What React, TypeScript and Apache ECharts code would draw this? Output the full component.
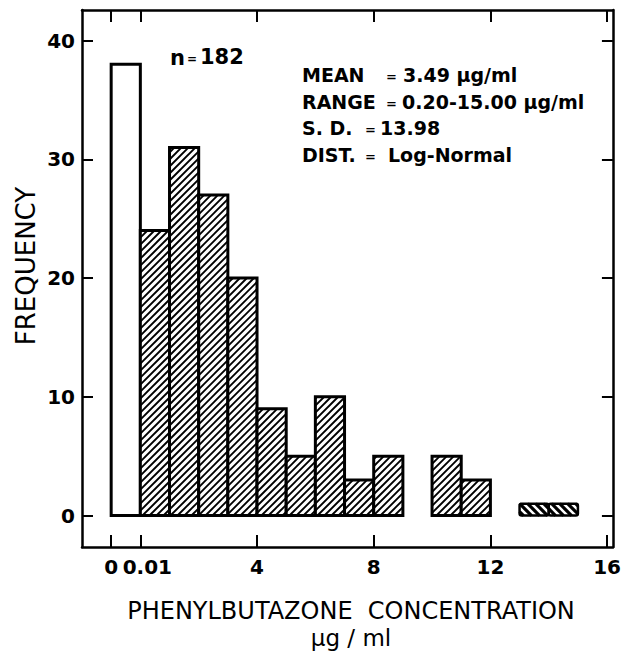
import React, { useEffect, useRef } from "react";
import * as echarts from "echarts";

// Histogram bins (axis position units; the 0–0.01 bin is drawn in the broken segment at -1..0)
const binLow = [-1, 0, 1, 2, 3, 4, 5, 6, 7, 8, 10, 11, 13, 14];
const binHigh = [0, 1, 2, 3, 4, 5, 6, 7, 8, 9, 11, 12, 14, 15];
const frequency = [38, 24, 31, 27, 20, 9, 5, 10, 3, 5, 5, 3, 1, 1];
const hatch = ["none", "/", "/", "/", "/", "/", "/", "/", "/", "/", "/", "/", "\\", "\\"];

const xTickValues = [-1, 0, 4, 8, 12, 16];
const xTickLabels = ["0", "0.01", "4", "8", "12", "16"];
const yTickValues = [0, 10, 20, 30, 40];

const statLabels = ["MEAN", "RANGE", "S. D.", "DIST."];
const statValues = ["3.49 µg/ml", "0.20-15.00 µg/ml", "13.98", "Log-Normal"];
const sampleSize = "182";

const FONT = "'DejaVu Sans', 'Liberation Sans', sans-serif";
const X_MIN = -2;

export default function App() {
  const ref = useRef<HTMLDivElement>(null);

  useEffect(() => {
    if (!ref.current) return;
    const chart = echarts.init(ref.current, undefined, { renderer: "svg" });

    const data = binLow.map((lo, i) => [lo, binHigh[i], frequency[i]]);

    const renderItem = (params: any, api: any) => {
      const idx = params.dataIndex;
      const lo = api.value(0);
      const hi = api.value(1);
      const cnt = api.value(2);
      const tl = api.coord([lo, cnt]);
      const br = api.coord([hi, 0]);
      const x = tl[0];
      const y = tl[1];
      const w = br[0] - tl[0];
      const h = br[1] - tl[1];
      const kind = hatch[idx];
      const children: any[] = [
        { type: "rect", shape: { x, y, width: w, height: h }, style: { fill: "#fff", stroke: null } },
      ];
      if (kind === "/") {
        const s = 7;
        const start = Math.ceil((x + y) / s) * s;
        for (let c = start; c <= x + w + y + h; c += s) {
          const a = Math.max(x, c - (y + h));
          const b = Math.min(x + w, c - y);
          if (b > a) {
            children.push({
              type: "line",
              shape: { x1: a, y1: c - a, x2: b, y2: c - b },
              style: { stroke: "#000", lineWidth: 1.9 },
            });
          }
        }
      } else if (kind === "\\") {
        const s = 8;
        const start = Math.ceil((x - (y + h)) / s) * s;
        for (let c = start; c <= x + w - y; c += s) {
          const a = Math.max(x, c + y);
          const b = Math.min(x + w, c + y + h);
          if (b > a) {
            children.push({
              type: "line",
              shape: { x1: a, y1: a - c, x2: b, y2: b - c },
              style: { stroke: "#000", lineWidth: 3.2 },
            });
          }
        }
      }
      children.push({
        type: "rect",
        shape: { x, y, width: w, height: h, r: kind === "\\" ? 2 : 0 },
        style: { fill: null, stroke: "#000", lineWidth: kind === "\\" ? 2.5 : 3 },
      });
      return { type: "group", children };
    };

    const xLabelFor = (v: number) => {
      const i = xTickValues.findIndex((t) => Math.abs(t - v) < 1e-6);
      if (i < 0) return "";
      return xTickLabels[i] === "0.01" ? "{s|0.01}" : xTickLabels[i];
    };

    const axisLine = { show: true, onZero: false, lineStyle: { color: "#000", width: 2.5 } };
    const xTick = { show: true, inside: true, length: 12, customValues: xTickValues, lineStyle: { color: "#000", width: 2 } };
    const yTick = { show: true, inside: true, length: 11, customValues: yTickValues, lineStyle: { color: "#000", width: 2 } };

    const textStyle = (fontSize: number, bold: boolean) => ({
      fill: "#000",
      font: `${bold ? "bold " : ""}${fontSize}px ${FONT}`,
    });

    const graphic: any[] = [];
    // n = 182
    graphic.push({ type: "text", x: 170, y: 58, style: { text: "n", ...textStyle(21, true), textVerticalAlign: "middle" } });
    graphic.push({ type: "text", x: 187, y: 59, style: { text: "=", ...textStyle(12, true), textVerticalAlign: "middle" } });
    graphic.push({ type: "text", x: 200, y: 57, style: { text: sampleSize, ...textStyle(21, true), textVerticalAlign: "middle" } });

    const rowY = [75, 102, 128, 155];
    const eqX = [386, 386, 365, 365];
    const valX = [403, 402, 380, 388];
    statLabels.forEach((lab, i) => {
      graphic.push({ type: "text", x: 302, y: rowY[i], style: { text: lab, ...textStyle(19, true), textVerticalAlign: "middle" } });
      graphic.push({ type: "text", x: eqX[i], y: rowY[i] + 1, style: { text: "=", ...textStyle(13, true), textVerticalAlign: "middle" } });
      graphic.push({ type: "text", x: valX[i], y: rowY[i], style: { text: statValues[i], ...textStyle(19, true), textVerticalAlign: "middle" } });
    });

    // Axis titles
    graphic.push({
      type: "text",
      x: 26,
      y: 266,
      rotation: Math.PI / 2,
      style: { text: "FREQUENCY", ...textStyle(26, false), textAlign: "center", textVerticalAlign: "middle" },
    });
    graphic.push({
      type: "text",
      x: 351,
      y: 611,
      style: { text: "PHENYLBUTAZONE  CONCENTRATION", ...textStyle(24, false), textAlign: "center", textVerticalAlign: "middle" },
    });
    graphic.push({
      type: "text",
      x: 351,
      y: 638,
      style: { text: "µg / ml", ...textStyle(23, false), textAlign: "center", textVerticalAlign: "middle" },
    });

    chart.setOption({
      animation: false,
      backgroundColor: "#fff",
      grid: { left: 82, right: 5, top: 10, bottom: 111, containLabel: false },
      xAxis: [
        {
          type: "value",
          min: X_MIN,
          max: 16.2,
          position: "bottom",
          axisLine,
          axisTick: xTick,
          splitLine: { show: false },
          axisLabel: {
            show: true,
            // leading empty label at the axis minimum so the "0"/"0.01" pair is not treated as min-label overlap
            customValues: [X_MIN, ...xTickValues],
            formatter: (v: number) => xLabelFor(v),
            showMinLabel: true,
            showMaxLabel: true,
            hideOverlap: false,
            color: "#000",
            fontSize: 20,
            fontWeight: "bold",
            fontFamily: FONT,
            margin: 10,
            rich: {
              s: {
                fontSize: 20,
                fontWeight: "bold",
                fontFamily: FONT,
                color: "#000",
                padding: [0, 0, 0, 14],
              },
            },
          },
        },
        {
          type: "value",
          min: X_MIN,
          max: 16.2,
          position: "top",
          axisLine,
          axisTick: xTick,
          splitLine: { show: false },
          axisLabel: { show: false },
        },
      ],
      yAxis: [
        {
          type: "value",
          min: -2.65,
          max: 42.57,
          position: "left",
          axisLine,
          axisTick: yTick,
          splitLine: { show: false },
          axisLabel: {
            show: true,
            customValues: yTickValues,
            showMinLabel: true,
            showMaxLabel: true,
            color: "#000",
            fontSize: 20,
            fontWeight: "bold",
            fontFamily: FONT,
            margin: 7,
          },
        },
        {
          type: "value",
          min: -2.65,
          max: 42.57,
          position: "right",
          axisLine,
          axisTick: yTick,
          splitLine: { show: false },
          axisLabel: { show: false },
        },
      ],
      series: [
        {
          type: "custom",
          xAxisIndex: 0,
          yAxisIndex: 0,
          renderItem,
          encode: { x: [0, 1], y: 2 },
          data,
          clip: false,
        },
      ],
      graphic,
    });

    return () => chart.dispose();
  }, []);

  return (
    <div
      ref={ref}
      style={{ position: "fixed", left: 0, top: 0, width: 624, height: 658, background: "#fff" }}
    />
  );
}
